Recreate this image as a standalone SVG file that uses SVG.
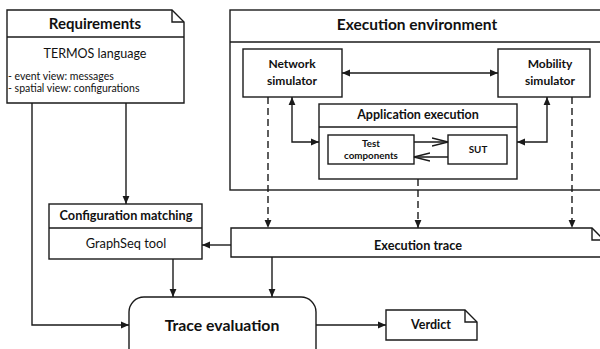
<svg xmlns="http://www.w3.org/2000/svg" width="600" height="349" viewBox="0 0 600 349">
  <style>
    .box { fill: #ffffff; stroke: #1a1a1a; stroke-width: 1.4; }
    .line { fill: none; stroke: #1a1a1a; stroke-width: 1.4; }
    .dash { fill: none; stroke: #1a1a1a; stroke-width: 1.4; stroke-dasharray: 7 4; }
    text { font-family: Lato, "Open Sans", "Liberation Sans", sans-serif; fill: #111111; text-anchor: middle; }
    .b { font-weight: bold; }
    .small { font-size: 10.5px; text-anchor: start; }
  </style>
  <defs>
    <marker id="tri" viewBox="0 0 8 8" refX="8" refY="4" markerWidth="8" markerHeight="8" markerUnits="userSpaceOnUse" orient="auto-start-reverse">
      <path d="M0,0.6 L8,4 L0,7.4 z" fill="#1a1a1a"/>
    </marker>
    <marker id="open" viewBox="0 0 17 10" refX="16" refY="5" markerWidth="17" markerHeight="10" markerUnits="userSpaceOnUse" orient="auto">
      <path d="M0,1 L16,5 L0,9" fill="none" stroke="#1a1a1a" stroke-width="1.3"/>
    </marker>
  </defs>

  <!-- Requirements note -->
  <g id="requirements">
    <path class="box" d="M7,10 H172 L184,22 V103 H7 Z"/>
    <path class="line" d="M172,10 V22 H184"/>
    <line class="line" x1="7" y1="37" x2="184" y2="37"/>
    <text class="b" x="95" y="29" font-size="15">Requirements</text>
    <text x="95" y="58" font-size="12.5">TERMOS language</text>
    <text class="small" x="8" y="80">- event view: messages</text>
    <text class="small" x="8" y="92">- spatial view: configurations</text>
  </g>

  <!-- Execution environment container -->
  <g id="execution-environment">
    <rect class="box" x="230" y="10" width="380" height="180"/>
    <line class="line" x1="230" y1="42" x2="610" y2="42"/>
    <text class="b" x="417" y="30" font-size="15.5">Execution environment</text>
  </g>

  <g id="network-simulator">
    <rect class="box" x="243" y="49" width="99" height="48"/>
    <text class="b" x="292" y="68" font-size="12">Network</text>
    <text class="b" x="292" y="85" font-size="12">simulator</text>
  </g>

  <g id="mobility-simulator">
    <rect class="box" x="498" y="49" width="92" height="48"/>
    <text class="b" x="550" y="68" font-size="12">Mobility</text>
    <text class="b" x="550" y="85" font-size="12">simulator</text>
  </g>

  <g id="application-execution">
    <rect class="box" x="319" y="104" width="198" height="75"/>
    <line class="line" x1="319" y1="127" x2="517" y2="127"/>
    <text class="b" x="418" y="119" font-size="12.5">Application execution</text>
  </g>

  <g id="test-components">
    <rect class="box" x="328" y="135" width="86" height="29"/>
    <text class="b" x="371" y="147" font-size="9.8">Test</text>
    <text class="b" x="371" y="159" font-size="9.8">components</text>
  </g>

  <g id="sut">
    <rect class="box" x="448" y="135" width="59" height="29"/>
    <text class="b" x="478" y="153" font-size="9.8">SUT</text>
  </g>

  <g id="configuration-matching">
    <rect class="box" x="49" y="204" width="153" height="55"/>
    <line class="line" x1="49" y1="228" x2="202" y2="228"/>
    <text class="b" x="126" y="220" font-size="12.7">Configuration matching</text>
    <text x="126" y="248" font-size="12.8">GraphSeq tool</text>
  </g>

  <g id="execution-trace">
    <path class="box" d="M231,228 H592 L604,240 V257 H231 Z"/>
    <path class="line" d="M592,228 V240 H604"/>
    <text class="b" x="418" y="250" font-size="12.7">Execution trace</text>
  </g>

  <g id="trace-evaluation">
    <rect class="box" x="129" y="297" width="187" height="70" rx="15" ry="15"/>
    <text class="b" x="222" y="331" font-size="15.8">Trace evaluation</text>
  </g>

  <g id="verdict">
    <path class="box" d="M386,310 H465 L477,322 V340 H386 Z"/>
    <path class="line" d="M465,310 V322 H477"/>
    <text class="b" x="431" y="329" font-size="12.5">Verdict</text>
  </g>

  <!-- Connectors -->
  <g id="connectors">
    <line class="line" x1="126" y1="103" x2="126" y2="204" marker-end="url(#tri)"/>
    <polyline class="line" points="32,103 32,325 129,325" marker-end="url(#tri)"/>
    <line class="line" x1="342" y1="73" x2="498" y2="73" marker-start="url(#tri)" marker-end="url(#tri)"/>
    <polyline class="line" points="292,97 292,142 319,142" marker-start="url(#tri)" marker-end="url(#tri)"/>
    <polyline class="line" points="547,97 547,142 517,142" marker-start="url(#tri)" marker-end="url(#tri)"/>
    <line class="line" x1="414" y1="142" x2="448" y2="142" marker-end="url(#open)"/>
    <line class="line" x1="448" y1="157" x2="414" y2="157" marker-end="url(#open)"/>
    <line class="dash" x1="268" y1="97" x2="268" y2="228" marker-end="url(#tri)"/>
    <line class="dash" x1="418" y1="179" x2="418" y2="228" marker-end="url(#tri)"/>
    <line class="dash" x1="572" y1="97" x2="572" y2="228" marker-end="url(#tri)"/>
    <line class="line" x1="231" y1="245" x2="202" y2="245" marker-end="url(#tri)"/>
    <line class="line" x1="173" y1="259" x2="173" y2="297" marker-end="url(#tri)"/>
    <line class="line" x1="272" y1="257" x2="272" y2="297" marker-end="url(#tri)"/>
    <line class="line" x1="316" y1="325" x2="386" y2="325" marker-end="url(#tri)"/>
  </g>
</svg>
